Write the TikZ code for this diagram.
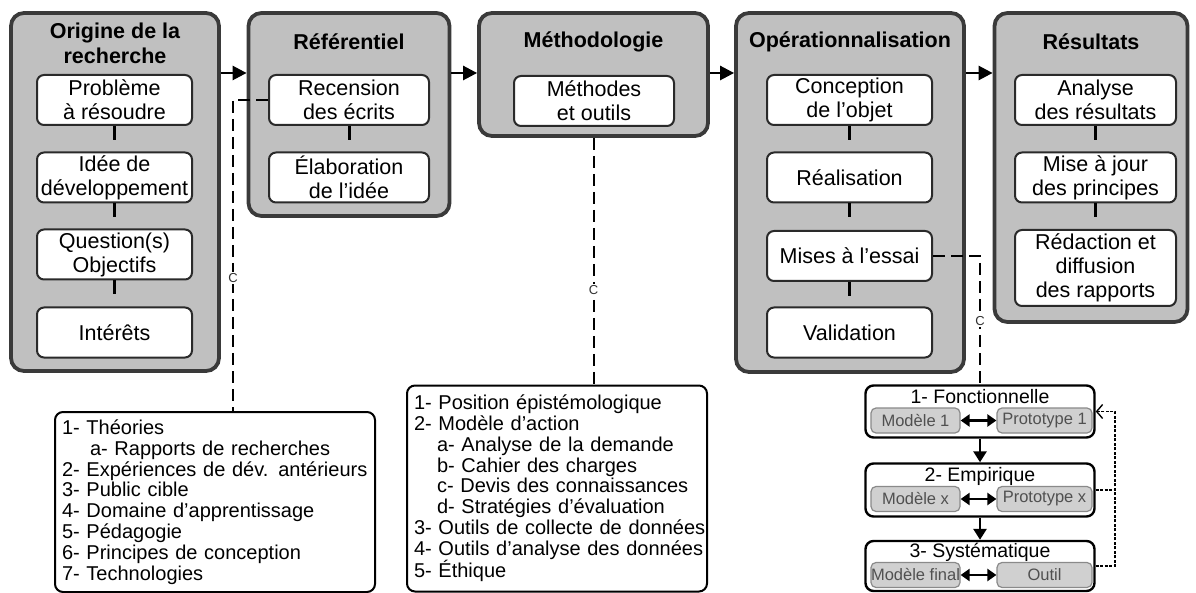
\documentclass[tikz,border=0pt]{standalone}
\usepackage{fontspec}
\setmainfont{Liberation Sans}
\usetikzlibrary{arrows.meta}
\definecolor{obfill}{HTML}{C0C0C0}
\definecolor{obdraw}{HTML}{3A3A3A}
\definecolor{ibdraw}{HTML}{2A2A2A}
\definecolor{pillfill}{HTML}{D0D0D0}
\definecolor{pilldraw}{HTML}{8A8A8A}
\definecolor{pilltext}{HTML}{505050}
\newcommand{\Li}[1]{\mbox{#1}}
\begin{document}
\begin{tikzpicture}[x=1pt,y=-1pt,
 outerbox/.style={draw=obdraw, fill=obfill, line width=3.8pt, rounded corners=13pt, inner sep=0pt},
 innerbox/.style={draw=ibdraw, fill=white, line width=2pt, rounded corners=7pt, inner sep=0pt, align=center, font=\fontsize{21.5}{24}\selectfont},
 title/.style={font=\fontsize{21.5}{25}\selectfont\bfseries, align=center, inner sep=0pt},
 stub/.style={line width=3pt, draw=black},
 flow/.style={line width=2.6pt, -{Triangle[length=14pt,width=14pt]}},
 link/.style={line width=2pt, dash pattern=on 12pt off 6pt},
 clabel/.style={font=\fontsize{13}{13}\selectfont, text=black!80, fill=white, inner sep=1pt},
 listbox/.style={draw=black, line width=2pt, rounded corners=8pt, fill=white, align=left, font=\fontsize{20}{20.8}\selectfont, inner xsep=7pt, inner ysep=0pt},
 stagebox/.style={draw=black, line width=2.4pt, rounded corners=8pt, fill=white, inner sep=0pt},
 stagetitle/.style={font=\fontsize{19.5}{20}\selectfont, inner sep=0pt},
 pill/.style={draw=pilldraw, fill=pillfill, line width=1.2pt, rounded corners=5pt, inner sep=0pt, font=\fontsize{16.5}{17}\selectfont, text=pilltext},
 dbl/.style={line width=2.6pt, {Triangle[length=9pt,width=12pt]}-{Triangle[length=9pt,width=12pt]}},
 down/.style={line width=2.8pt, -{Triangle[length=11pt,width=13pt]}},
 fb/.style={line width=1.6pt, dash pattern=on 3pt off 1.5pt, -{Straight Barb[length=6pt,width=14pt,line width=1.4pt]}},
 fbl/.style={line width=1.6pt, dash pattern=on 3pt off 1.5pt}
]
\useasboundingbox (0,0) rectangle (1196,593);

% outer boxes
\node[outerbox, minimum width=208pt, minimum height=358pt] (o1) at (115,192) {};
\node[outerbox, minimum width=201pt, minimum height=203pt] (o2) at (349,114.5) {};
\node[outerbox, minimum width=229pt, minimum height=123pt] (o3) at (593.5,74.5) {};
\node[outerbox, minimum width=228pt, minimum height=359pt] (o4) at (850,192.5) {};
\node[outerbox, minimum width=193pt, minimum height=309pt] (o5) at (1091,167.5) {};

% titles
\node[title] (t1) at (115,43) {Origine de la\\recherche};
\node[title] (t2) at (349,42) {Référentiel};
\node[title] (t3) at (593.5,42) {Méthodologie};
\node[title] (t4) at (850,42) {Opérationnalisation};
\node[title] (t5) at (1091,42) {Résultats};

% inner boxes
\node[innerbox, minimum width=155pt, minimum height=50pt] (a1) at (114.5,100) {Problème\\à résoudre};
\node[innerbox, minimum width=155pt, minimum height=50pt] (a2) at (114.5,177.5) {Idée de\\développement};
\node[innerbox, minimum width=155pt, minimum height=50pt] (a3) at (114.5,254.5) {Question(s)\\Objectifs};
\node[innerbox, minimum width=155pt, minimum height=50pt] (a4) at (114.5,332.5) {Intérêts};

\node[innerbox, minimum width=160pt, minimum height=50pt] (b1) at (349,100) {Recension\\des écrits};
\node[innerbox, minimum width=160pt, minimum height=50pt] (b2) at (349,177.5) {Élaboration\\de l’idée};

\node[innerbox, minimum width=160pt, minimum height=50pt] (c1) at (594,101) {Méthodes\\et outils};

\node[innerbox, minimum width=165pt, minimum height=50pt] (d1) at (849.5,100) {Conception\\de l’objet};
\node[innerbox, minimum width=165pt, minimum height=50pt] (d2) at (849.5,177.5) {Réalisation};
\node[innerbox, minimum width=165pt, minimum height=50pt] (d3) at (849.5,256) {Mises à l’essai};
\node[innerbox, minimum width=165pt, minimum height=50pt] (d4) at (849.5,332.5) {Validation};

\node[innerbox, minimum width=161pt, minimum height=50pt] (e1) at (1095.5,100) {Analyse\\des résultats};
\node[innerbox, minimum width=161pt, minimum height=50pt] (e2) at (1095.5,177.5) {Mise à jour\\des principes};
\node[innerbox, minimum width=161pt, minimum height=76pt] (e3) at (1095.5,268) {Rédaction et\\diffusion\\des rapports};

% stubs
\foreach \n in {a1,a2,a3,b1,d1,d2,d3,e1,e2}{\draw[stub] (\n.south) -- ++(0,14);}

% flow arrows
\coordinate (ay) at (0,73);
\draw[flow] (o1.east |- ay) -- (o2.west |- ay);
\draw[flow] (o2.east |- ay) -- (o3.west |- ay);
\draw[flow] (o3.east |- ay) -- (o4.west |- ay);
\draw[flow] (o4.east |- ay) -- (o5.west |- ay);

% lists
\node[listbox, text width=306pt, minimum height=180pt] (l1) at (215,502) {\Li{1- Théories}\\
\Li{\hspace*{28pt}a- Rapports de recherches}\\
\Li{2- Expériences de dév. antérieurs}\\
\Li{3- Public cible}\\
\Li{4- Domaine d’apprentissage}\\
\Li{5- Pédagogie}\\
\Li{6- Principes de conception}\\
\Li{7- Technologies}};
\node[listbox, text width=286pt, minimum height=206pt] (l2) at (557,488.5) {\Li{1- Position épistémologique}\\
\Li{2- Modèle d’action}\\
\Li{\hspace*{23pt}a- Analyse de la demande}\\
\Li{\hspace*{23pt}b- Cahier des charges}\\
\Li{\hspace*{23pt}c- Devis des connaissances}\\
\Li{\hspace*{23pt}d- Stratégies d’évaluation}\\
\Li{3- Outils de collecte de données}\\
\Li{4- Outils d’analyse des données}\\
\Li{5- Éthique}};

% stage boxes
\node[stagebox, minimum width=229pt, minimum height=52pt] (f) at (980,411.5) {};
\node[stagebox, minimum width=229pt, minimum height=53pt] (g) at (980,490) {};
\node[stagebox, minimum width=229pt, minimum height=50pt] (h) at (980,566) {};
\node[stagetitle] (ft) at (980,397) {1- Fonctionnelle};
\node[stagetitle] (gt) at (980,476) {2- Empirique};
\node[stagetitle] (ht) at (980,552) {3- Systématique};

\node[pill, minimum width=89pt, minimum height=25pt] (fm) at (915.5,420.5) {Modèle 1};
\node[pill, minimum width=95pt, minimum height=25pt] (fp) at (1044.5,420.5) {Prototype 1};
\node[pill, minimum width=89pt, minimum height=25pt] (gm) at (915.5,499) {Modèle x};
\node[pill, minimum width=95pt, minimum height=25pt] (gp) at (1044.5,499) {Prototype x};
\node[pill, minimum width=89pt, minimum height=25pt] (hm) at (915.5,575) {Modèle final};
\node[pill, minimum width=95pt, minimum height=25pt] (hp) at (1044.5,575) {Outil};

\draw[dbl] (fm.east) -- (fp.west);
\draw[dbl] (gm.east) -- (gp.west);
\draw[dbl] (hm.east) -- (hp.west);
\draw[down] (f.south) -- (g.north);
\draw[down] (g.south) -- (h.north);

\coordinate (fbx) at (1115,0);
\draw[fb] (h.east) -- (h.east -| fbx) -- (f.east -| fbx) -- (f.east);
\draw[fbl] (g.east) -- (g.east -| fbx);

% dashed links
\coordinate (cx1) at (233,0);
\draw[link] (b1.west) -- (b1.west -| cx1) -- (l1.north -| cx1);
\node[clabel] (c1l) at (233,278) {C};
\draw[link] (o3.south) -- (o3.south |- l2.north);
\node[clabel] (c2l) at (593.5,290) {C};
\coordinate (cx3) at (980,0);
\draw[link] (d3.east) -- (d3.east -| cx3) -- (f.north);
\node[clabel] (c3l) at (980,321) {C};
\end{tikzpicture}
\end{document}
